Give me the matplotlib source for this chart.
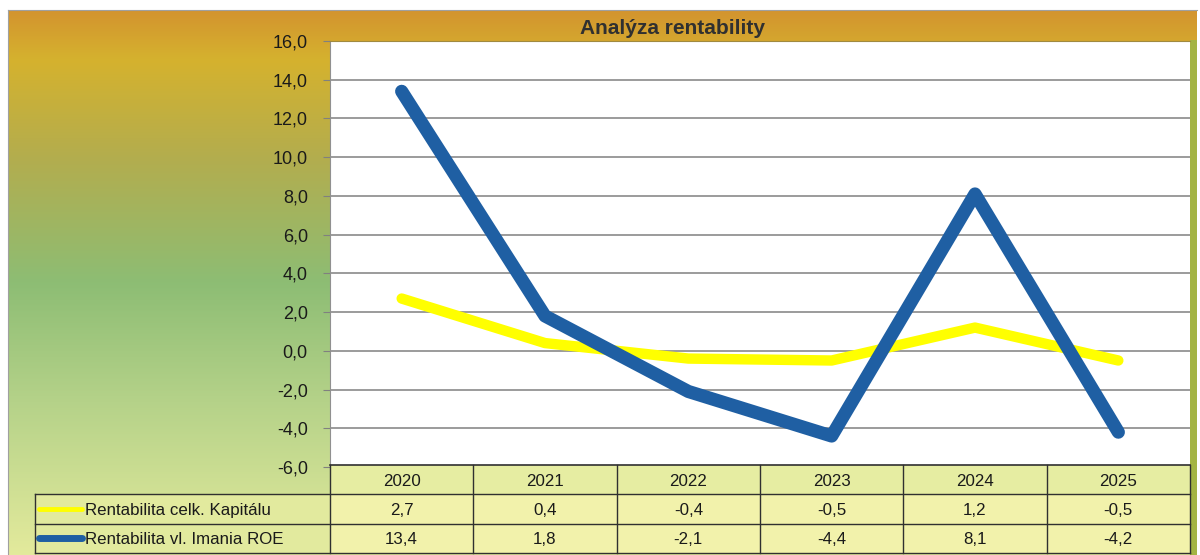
import numpy as np
import matplotlib
matplotlib.use('Agg')
import matplotlib.pyplot as plt
from matplotlib.colors import LinearSegmentedColormap
from matplotlib.patches import Rectangle
from matplotlib.ticker import FuncFormatter

plt.rcParams['font.family'] = ['Liberation Sans', 'DejaVu Sans']

# data
years = ['2020', '2021', '2022', '2023', '2024', '2025']
celk_kapital = [2.7, 0.4, -0.4, -0.5, 1.2, -0.5]
roe = [13.4, 1.8, -2.1, -4.4, 8.1, -4.2]
series_names = ['Rentabilita celk. Kapitálu', 'Rentabilita vl. Imania ROE']
title = 'Analýza rentability'

W, H = 1200, 555


def box(x0, y0, x1, y1):
    # pixel box -> figure fraction
    return [x0 / W, 1 - y1 / H, (x1 - x0) / W, (y1 - y0) / H]


fig = plt.figure(figsize=(W / 100, H / 100), dpi=100)
fig.patch.set_facecolor('white')

# gradient background of the chart area
bg = fig.add_axes(box(8, 10, 1197, 555))
cmap = LinearSegmentedColormap.from_list('bg', [
    (0.0, '#d3942f'), (0.09, '#d5b22e'), (0.27, '#b3ad4e'),
    (0.5, '#8dbd74'), (0.72, '#b5d289'), (1.0, '#e3ea9c')])
grad = np.linspace(0, 1, 256).reshape(-1, 1)
bg.imshow(grad, cmap=cmap, aspect='auto', extent=[0, 1, 0, 1])
bg.set_xticks([])
bg.set_yticks([])
for s in ['right', 'bottom']:
    bg.spines[s].set_visible(False)
bg.spines['left'].set_color('#a0a0a0')
bg.spines['top'].set_color('#a0a0a0')
bg.text((672 - 8) / 1189, 1 - 18 / 545, title, transform=bg.transAxes,
        ha='center', va='center', fontsize=15, fontweight='bold', color='#303030')

# olive strip on the right
strip = fig.add_axes(box(1190, 40, 1197, 555))
strip.set_facecolor('#a3b444')
strip.set_xticks([])
strip.set_yticks([])
for s in strip.spines.values():
    s.set_visible(False)

# main plot
ax = fig.add_axes(box(330, 41, 1190, 467))
ax.set_facecolor('white')
x = np.arange(len(years))
ax.plot(x, celk_kapital, color='#ffff00', lw=7.5, solid_capstyle='round', zorder=3)
ax.plot(x, roe, color='#1f5fa3', lw=9.5, solid_capstyle='round', zorder=4)
ax.set_xlim(-0.5, len(years) - 0.5)
ax.set_ylim(-6, 16)
ax.set_yticks(range(-6, 17, 2))
ax.yaxis.set_major_formatter(FuncFormatter(lambda v, p: f'{v:.1f}'.replace('.', ',')))
ax.yaxis.grid(True, color='#8a8a8a', lw=1.2)
ax.set_axisbelow(True)
ax.set_xticks([])
ax.tick_params(axis='y', direction='out', length=5, color='#808080',
               labelsize=13, pad=11, labelcolor='#1a1a1a')
ax.spines['top'].set_color('#a08a40')
ax.spines['right'].set_visible(False)
ax.spines['bottom'].set_visible(False)
ax.spines['left'].set_color('#909090')

# data table under the plot
tax = fig.add_axes(box(35, 465, 1190, 553))
x_left = -0.5 - 295 * 6 / 860
tax.set_xlim(x_left, len(years) - 0.5)
tax.set_ylim(0, 3)
tax.axis('off')
tax.add_patch(Rectangle((-0.5, 2), len(years), 1, facecolor='#e6eda2', edgecolor='none'))
tax.add_patch(Rectangle((-0.5, 0), len(years), 2, facecolor='#f2f2ab', edgecolor='none'))
tax.add_patch(Rectangle((x_left, 0), -0.5 - x_left, 2, facecolor='#e2ea9e', edgecolor='none'))

lc = '#303030'
tax.plot([-0.5, len(years) - 0.5], [3, 3], color=lc, lw=1.2, clip_on=False)
for yy in [2, 1, 0]:
    tax.plot([x_left, len(years) - 0.5], [yy, yy], color=lc, lw=1, clip_on=False)
tax.plot([x_left, x_left], [0, 2], color=lc, lw=1, clip_on=False)
for xx in np.arange(-0.5, len(years), 1.0):
    tax.plot([xx, xx], [0, 3], color=lc, lw=1, clip_on=False)

fs = 12.2
for i, yr in enumerate(years):
    tax.text(i, 2.45, yr, ha='center', va='center', fontsize=fs, color='#1a1a1a')
    tax.text(i, 1.45, f'{celk_kapital[i]:.1f}'.replace('.', ','), ha='center', va='center',
             fontsize=fs, color='#1a1a1a')
    tax.text(i, 0.45, f'{roe[i]:.1f}'.replace('.', ','), ha='center', va='center',
             fontsize=fs, color='#1a1a1a')

px = 6 / 860
sw0, sw1, tx = x_left + 4 * px, x_left + 47 * px, x_left + 50 * px
tax.plot([sw0, sw1], [1.5, 1.5], color='#ffff00', lw=3.5, solid_capstyle='round')
tax.plot([sw0, sw1], [0.5, 0.5], color='#1f5fa3', lw=5, solid_capstyle='round')
tax.text(tx, 1.45, series_names[0], ha='left', va='center', fontsize=fs, color='#1a1a1a')
tax.text(tx, 0.45, series_names[1], ha='left', va='center', fontsize=fs, color='#1a1a1a')

fig.savefig('out.png', dpi=100)
